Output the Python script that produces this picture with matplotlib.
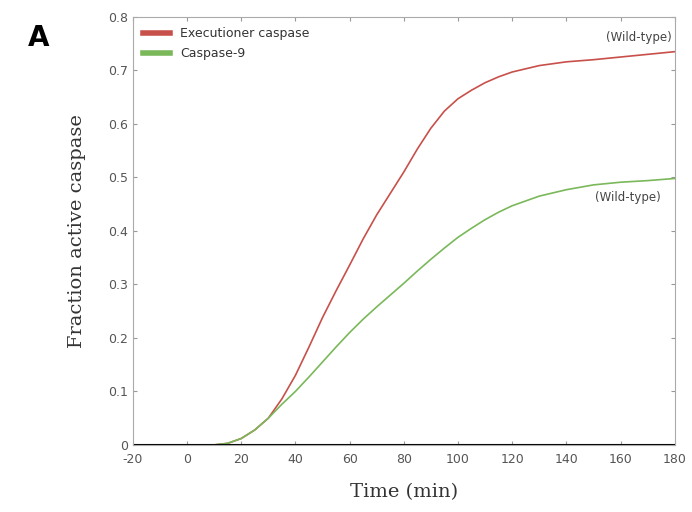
import matplotlib
matplotlib.use("Agg")
from matplotlib import pyplot as plt

plt.rcParams["axes.unicode_minus"] = False

# time (min)
t = [-20, 0, 10, 15, 20, 25, 30, 35, 40, 45, 50, 55, 60, 65, 70, 75, 80, 85, 90, 95,
     100, 105, 110, 115, 120, 130, 140, 150, 160, 170, 180]

executioner = [0, 0, 0, 0.003, 0.012, 0.028, 0.05, 0.086, 0.13, 0.183, 0.238, 0.288, 0.336,
               0.385, 0.43, 0.47, 0.51, 0.553, 0.592, 0.624, 0.647, 0.663, 0.677, 0.688,
               0.697, 0.709, 0.716, 0.72, 0.725, 0.73, 0.735]

caspase9 = [0, 0, 0, 0.003, 0.012, 0.028, 0.05, 0.076, 0.1, 0.127, 0.155, 0.183, 0.21,
            0.235, 0.258, 0.28, 0.302, 0.325, 0.347, 0.368, 0.388, 0.405, 0.421, 0.435,
            0.447, 0.465, 0.477, 0.486, 0.491, 0.494, 0.498]

xticks = [-20, 0, 20, 40, 60, 80, 100, 120, 140, 160, 180]
yticks = [0, 0.1, 0.2, 0.3, 0.4, 0.5, 0.6, 0.7, 0.8]

fig = plt.figure(figsize=(6.92, 5.12), dpi=100)
ax = fig.add_axes([0.192, 0.131, 0.783, 0.836])

ax.plot(t, executioner, color="#c8504a", lw=1.2, label="Executioner caspase")
ax.plot(t, caspase9, color="#7ab85a", lw=1.2, label="Caspase-9")
ax.axhline(0, color="black", lw=1.5)

ax.set_xlim(-20, 180)
ax.set_ylim(0, 0.8)
ax.set_xticks(xticks)
ax.set_yticks(yticks)
ax.set_yticklabels(["0", "0.1", "0.2", "0.3", "0.4", "0.5", "0.6", "0.7", "0.8"])
ax.tick_params(direction="in", length=3, colors="#999999", labelcolor="#555555",
               labelsize=9, top=True, right=True)
ax.tick_params(axis="x", pad=6)
for s in ax.spines.values():
    s.set_color("#aaaaaa")
    s.set_linewidth(0.8)

ax.set_xlabel("Time (min)", family="DejaVu Serif", fontsize=14, color="#333333", labelpad=12)
ax.set_ylabel("Fraction active caspase", family="DejaVu Serif", fontsize=14, color="#333333",
              labelpad=16)

leg = ax.legend(loc="upper left", frameon=False, fontsize=9, handlelength=2.2,
                borderaxespad=0.4, labelspacing=0.6)
for h in leg.get_lines():
    h.set_linewidth(4)
for txt in leg.get_texts():
    txt.set_color("#333333")

ax.text(179, 0.755, "(Wild-type)", ha="right", fontsize=8.5, color="#444444")
ax.text(175, 0.455, "(Wild-type)", ha="right", fontsize=8.5, color="#444444")

fig.text(0.04, 0.91, "A", fontsize=20, fontweight="bold")

plt.savefig("out.png")
